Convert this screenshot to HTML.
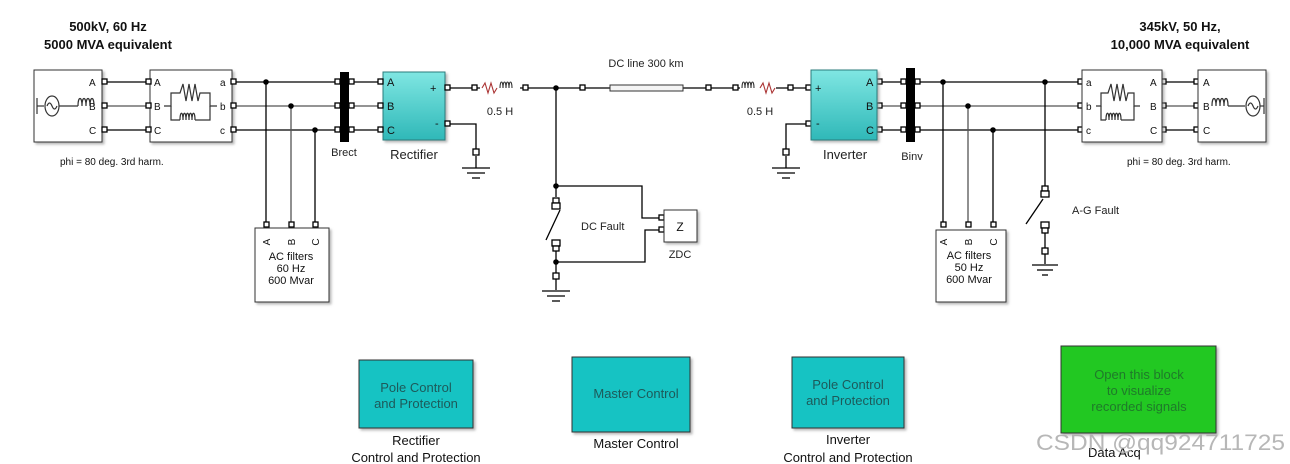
<!DOCTYPE html>
<html><head><meta charset="utf-8"><style>
html,body{margin:0;padding:0;background:#fff;width:1290px;height:464px;overflow:hidden}
svg{display:block;font-family:"Liberation Sans",Arial,sans-serif}
</style></head><body>
<svg width="1290" height="464" viewBox="0 0 1290 464" xmlns="http://www.w3.org/2000/svg">
<defs>
<linearGradient id="teal" x1="0" y1="0" x2="0" y2="1"><stop offset="0" stop-color="#7fe6e2"/><stop offset="1" stop-color="#2fb8b8"/></linearGradient>
<filter id="sh" x="-10%" y="-10%" width="130%" height="130%"><feDropShadow dx="2" dy="2" stdDeviation="1.2" flood-color="#888" flood-opacity="0.6"/></filter>
</defs>
<rect width="1290" height="464" fill="#fff"/>
<g font-weight="bold" font-size="13" text-anchor="middle" fill="#111">
<text x="108" y="31">500kV, 60 Hz</text><text x="108" y="49">5000 MVA equivalent</text>
<text x="1180" y="31">345kV, 50 Hz,</text><text x="1180" y="49">10,000 MVA equivalent</text>
</g>
<g stroke="#000" stroke-width="1.3" fill="none">
<line x1="104" y1="82" x2="150" y2="82"/><line x1="104" y1="106" x2="150" y2="106" stroke="#555"/><line x1="104" y1="130" x2="150" y2="130"/>
<line x1="232" y1="82" x2="383" y2="82"/><line x1="232" y1="106" x2="383" y2="106" stroke="#555"/><line x1="232" y1="130" x2="383" y2="130"/>
<line x1="266" y1="82" x2="266" y2="226"/><line x1="291" y1="106" x2="291" y2="226" stroke="#555"/><line x1="315" y1="130" x2="315" y2="226"/>
<line x1="446" y1="88" x2="480" y2="88"/>
<line x1="520" y1="88" x2="610" y2="88"/>
<line x1="683" y1="88" x2="740" y2="88"/>
<line x1="776" y1="88" x2="811" y2="88"/>
<polyline points="446,124 476,124 476,150"/>
<polyline points="811,124 786,124 786,150"/>
<line x1="462" y1="168" x2="490" y2="168"/><line x1="467" y1="173" x2="485" y2="173"/><line x1="472" y1="178" x2="480" y2="178"/><line x1="476" y1="156" x2="476" y2="168"/>
<line x1="772" y1="168" x2="800" y2="168"/><line x1="777" y1="173" x2="795" y2="173"/><line x1="782" y1="178" x2="790" y2="178"/><line x1="786" y1="156" x2="786" y2="168"/>
<line x1="556" y1="88" x2="556" y2="197"/>
<polyline points="556,186 642,186 642,218 664,218"/>
<polyline points="664,230 645,230 645,262 556,262"/>
<line x1="546" y1="240" x2="560" y2="210"/>
<line x1="556" y1="248" x2="556" y2="290"/>
<line x1="542" y1="291" x2="570" y2="291"/><line x1="547" y1="296" x2="565" y2="296"/><line x1="552" y1="301" x2="560" y2="301"/>
<line x1="878" y1="82" x2="1082" y2="82"/><line x1="878" y1="106" x2="1082" y2="106" stroke="#555"/><line x1="878" y1="130" x2="1082" y2="130"/>
<line x1="1163" y1="82" x2="1198" y2="82"/><line x1="1163" y1="106" x2="1198" y2="106" stroke="#555"/><line x1="1163" y1="130" x2="1198" y2="130"/>
<line x1="943" y1="82" x2="943" y2="226"/><line x1="968" y1="106" x2="968" y2="226" stroke="#555"/><line x1="993" y1="130" x2="993" y2="226"/>
<line x1="1045" y1="82" x2="1045" y2="195"/>
<line x1="1026" y1="224" x2="1043" y2="199"/>
<line x1="1045" y1="226" x2="1045" y2="264"/>
<line x1="1032" y1="265" x2="1058" y2="265"/><line x1="1037" y1="270" x2="1053" y2="270"/><line x1="1042" y1="275" x2="1048" y2="275"/>
</g>
<g fill="#000">
<circle cx="266" cy="82" r="2.8"/><circle cx="291" cy="106" r="2.8"/><circle cx="315" cy="130" r="2.8"/>
<circle cx="556" cy="88" r="2.8"/><circle cx="556" cy="186" r="2.8"/><circle cx="556" cy="262" r="2.8"/>
<circle cx="943" cy="82" r="2.8"/><circle cx="968" cy="106" r="2.8"/><circle cx="993" cy="130" r="2.8"/><circle cx="1045" cy="82" r="2.8"/>
</g>
<rect x="34" y="70" width="68" height="72" fill="#fff" stroke="#333" filter="url(#sh)"/>
<g stroke="#333" fill="none" stroke-width="1.2">
<line x1="37" y1="98" x2="37" y2="114"/><line x1="37" y1="106" x2="44" y2="106"/><ellipse cx="52" cy="106" rx="7" ry="10"/><path d="M47,106 q2.5,-6 5,0 q2.5,6 5,0"/>
<line x1="59" y1="106" x2="78" y2="106"/><path d="M78,106 c0,-10 4,-10 4,0 c0,-10 4,-10 4,0 c0,-10 4,-10 4,0 c0,-10 4,-10 4,0"/>
</g>
<g font-size="10" fill="#111"><text x="89" y="86">A</text><text x="89" y="110">B</text><text x="89" y="134">C</text></g>
<rect x="150" y="70" width="82" height="72" fill="#fff" stroke="#333" filter="url(#sh)"/>
<g stroke="#333" fill="none" stroke-width="1.2">
<polyline points="164,106 171,106 171,93 180,93 183,84 186,101 189,84 192,101 195,84 198,101 200,93 210,93 210,106 217,106"/>
<polyline points="171,106 171,120 180,120"/><path d="M180,120 c0,-9 3,-9 3,0 c0,-9 3,-9 3,0 c0,-9 3,-9 3,0 c0,-9 3,-9 3,0 c0,-9 3,-9 3,0"/><polyline points="195,120 210,120 210,106"/>
</g>
<g font-size="10" fill="#111"><text x="154" y="86">A</text><text x="154" y="110">B</text><text x="154" y="134">C</text><text x="220" y="86">a</text><text x="220" y="110">b</text><text x="220" y="134">c</text></g>
<text x="60" y="165" font-size="10" fill="#111">phi = 80 deg.  3rd harm.</text>
<rect x="340" y="72" width="9" height="70" fill="#000"/>
<text x="344" y="156" font-size="11" text-anchor="middle" fill="#222">Brect</text>
<rect x="383" y="72" width="62" height="68" fill="url(#teal)" stroke="#2a7b7b" filter="url(#sh)"/>
<g font-size="11" fill="#111"><text x="387" y="86">A</text><text x="387" y="110">B</text><text x="387" y="134">C</text><text x="430" y="92">+</text><text x="435" y="127">-</text></g>
<text x="414" y="159" font-size="13" text-anchor="middle" fill="#222">Rectifier</text>
<g stroke="#a33" fill="none" stroke-width="1.1"><polyline points="482,88 485,83 488,93 491,83 494,93 497,88"/></g>
<g stroke="#333" fill="none" stroke-width="1.1"><path d="M500,88 c0,-8 3,-8 3,0 c0,-8 3,-8 3,0 c0,-8 3,-8 3,0 c0,-8 3,-8 3,0"/></g>
<text x="500" y="115" font-size="11" text-anchor="middle" fill="#222">0.5 H</text>
<rect x="610" y="85" width="73" height="6" fill="#f4f4f4" stroke="#333"/>
<text x="646" y="67" font-size="11" text-anchor="middle" fill="#222">DC line 300 km</text>
<g stroke="#333" fill="none" stroke-width="1.1"><path d="M742,88 c0,-8 3,-8 3,0 c0,-8 3,-8 3,0 c0,-8 3,-8 3,0 c0,-8 3,-8 3,0"/></g>
<g stroke="#a33" fill="none" stroke-width="1.1"><polyline points="760,88 763,83 766,93 769,83 772,93 775,88"/></g>
<text x="760" y="115" font-size="11" text-anchor="middle" fill="#222">0.5 H</text>
<g fill="#fff" stroke="#000" stroke-width="1.3">
<rect x="102" y="79" width="5" height="5"/><rect x="102" y="103" width="5" height="5"/><rect x="102" y="127" width="5" height="5"/>
<rect x="146" y="79" width="5" height="5"/><rect x="146" y="103" width="5" height="5"/><rect x="146" y="127" width="5" height="5"/>
<rect x="231" y="79" width="5" height="5"/><rect x="231" y="103" width="5" height="5"/><rect x="231" y="127" width="5" height="5"/>
<rect x="335" y="79" width="5" height="5"/><rect x="335" y="103" width="5" height="5"/><rect x="335" y="127" width="5" height="5"/>
<rect x="349" y="79" width="5" height="5"/><rect x="349" y="103" width="5" height="5"/><rect x="349" y="127" width="5" height="5"/>
<rect x="378" y="79" width="5" height="5"/><rect x="378" y="103" width="5" height="5"/><rect x="378" y="127" width="5" height="5"/>
<rect x="445" y="85" width="5" height="5"/><rect x="445" y="121" width="5" height="5"/>
<rect x="472" y="85" width="5" height="5"/><rect x="523" y="85" width="5" height="5"/>
<rect x="580" y="85" width="5" height="5"/><rect x="706" y="85" width="5" height="5"/>
<rect x="733" y="85" width="5" height="5"/><rect x="788" y="85" width="5" height="5"/>
<rect x="806" y="85" width="5" height="5"/><rect x="806" y="121" width="5" height="5"/>
<rect x="473" y="149" width="6" height="6"/><rect x="783" y="149" width="6" height="6"/>
<rect x="877" y="79" width="5" height="5"/><rect x="877" y="103" width="5" height="5"/><rect x="877" y="127" width="5" height="5"/>
<rect x="901" y="79" width="5" height="5"/><rect x="901" y="103" width="5" height="5"/><rect x="901" y="127" width="5" height="5"/>
<rect x="915" y="79" width="5" height="5"/><rect x="915" y="103" width="5" height="5"/><rect x="915" y="127" width="5" height="5"/>
<rect x="1078" y="79" width="5" height="5"/><rect x="1078" y="103" width="5" height="5"/><rect x="1078" y="127" width="5" height="5"/>
<rect x="1161" y="79" width="5" height="5"/><rect x="1161" y="103" width="5" height="5"/><rect x="1161" y="127" width="5" height="5"/>
<rect x="1194" y="79" width="5" height="5"/><rect x="1194" y="103" width="5" height="5"/><rect x="1194" y="127" width="5" height="5"/>
<rect x="264" y="222" width="5" height="5"/><rect x="289" y="222" width="5" height="5"/><rect x="313" y="222" width="5" height="5"/>
<rect x="941" y="222" width="5" height="5"/><rect x="966" y="222" width="5" height="5"/><rect x="991" y="222" width="5" height="5"/>
<rect x="553" y="198" width="6" height="5"/><rect x="552" y="203" width="8" height="6"/>
<rect x="552" y="240" width="8" height="6"/><rect x="553" y="246" width="6" height="5"/>
<rect x="553" y="273" width="6" height="6"/>
<rect x="659" y="215" width="5" height="5"/><rect x="659" y="227" width="5" height="5"/>
<rect x="1042" y="186" width="6" height="5"/><rect x="1041" y="191" width="8" height="6"/>
<rect x="1041" y="222" width="8" height="6"/><rect x="1042" y="228" width="6" height="5"/>
<rect x="1042" y="248" width="6" height="6"/>
</g>
<rect x="255" y="228" width="74" height="74" fill="#fff" stroke="#333" filter="url(#sh)"/>
<g font-size="10" fill="#111">
<text transform="translate(270,242) rotate(-90)" text-anchor="middle">A</text>
<text transform="translate(295,242) rotate(-90)" text-anchor="middle">B</text>
<text transform="translate(319,242) rotate(-90)" text-anchor="middle">C</text>
</g>
<g font-size="11" fill="#111" text-anchor="middle"><text x="291" y="260">AC filters</text><text x="291" y="272">60 Hz</text><text x="291" y="284">600 Mvar</text></g>
<rect x="936" y="230" width="70" height="72" fill="#fff" stroke="#333" filter="url(#sh)"/>
<g font-size="10" fill="#111">
<text transform="translate(947,242) rotate(-90)" text-anchor="middle">A</text>
<text transform="translate(972,242) rotate(-90)" text-anchor="middle">B</text>
<text transform="translate(997,242) rotate(-90)" text-anchor="middle">C</text>
</g>
<g font-size="11" fill="#111" text-anchor="middle"><text x="969" y="259">AC filters</text><text x="969" y="271">50 Hz</text><text x="969" y="283">600 Mvar</text></g>
<text x="581" y="230" font-size="11" fill="#222">DC Fault</text>
<rect x="664" y="210" width="33" height="32" fill="#fff" stroke="#333" filter="url(#sh)"/>
<text x="680" y="231" font-size="12" text-anchor="middle" fill="#111">Z</text>
<text x="680" y="258" font-size="11" text-anchor="middle" fill="#222">ZDC</text>
<text x="1072" y="214" font-size="11" fill="#222">A-G Fault</text>
<rect x="811" y="70" width="66" height="70" fill="url(#teal)" stroke="#2a7b7b" filter="url(#sh)"/>
<g font-size="11" fill="#111"><text x="866" y="86">A</text><text x="866" y="110">B</text><text x="866" y="134">C</text><text x="815" y="92">+</text><text x="816" y="127">-</text></g>
<text x="845" y="159" font-size="13" text-anchor="middle" fill="#222">Inverter</text>
<rect x="906" y="68" width="9" height="74" fill="#000"/>
<text x="912" y="160" font-size="11" text-anchor="middle" fill="#222">Binv</text>
<rect x="1082" y="70" width="80" height="72" fill="#fff" stroke="#333" filter="url(#sh)"/>
<g stroke="#333" fill="none" stroke-width="1.2">
<polyline points="1096,106 1101,106 1101,93 1108,93 1111,84 1114,101 1117,84 1120,101 1123,84 1126,101 1128,93 1134,93 1134,106 1140,106"/>
<polyline points="1101,106 1101,120 1106,120"/><path d="M1106,120 c0,-9 3,-9 3,0 c0,-9 3,-9 3,0 c0,-9 3,-9 3,0 c0,-9 3,-9 3,0 c0,-9 3,-9 3,0"/><polyline points="1121,120 1134,120 1134,106"/>
</g>
<g font-size="10" fill="#111"><text x="1086" y="86">a</text><text x="1086" y="110">b</text><text x="1086" y="134">c</text><text x="1150" y="86">A</text><text x="1150" y="110">B</text><text x="1150" y="134">C</text></g>
<rect x="1198" y="70" width="68" height="72" fill="#fff" stroke="#333" filter="url(#sh)"/>
<g stroke="#333" fill="none" stroke-width="1.2">
<path d="M1212,106 c0,-10 4,-10 4,0 c0,-10 4,-10 4,0 c0,-10 4,-10 4,0 c0,-10 4,-10 4,0"/><line x1="1228" y1="106" x2="1245" y2="106"/>
<ellipse cx="1253" cy="106" rx="7" ry="10"/><path d="M1248,106 q2.5,-6 5,0 q2.5,6 5,0"/><line x1="1260" y1="106" x2="1264" y2="106"/><line x1="1264" y1="98" x2="1264" y2="114"/>
</g>
<g font-size="10" fill="#111"><text x="1203" y="86">A</text><text x="1203" y="110">B</text><text x="1203" y="134">C</text></g>
<text x="1127" y="165" font-size="10" fill="#111">phi = 80 deg. 3rd harm.</text>
<rect x="359" y="360" width="114" height="68" fill="#17c3c3" stroke="#333" filter="url(#sh)"/>
<g font-size="13" fill="#1d5a5a" text-anchor="middle"><text x="416" y="392">Pole Control</text><text x="416" y="408">and Protection</text></g>
<g font-size="13" fill="#111" text-anchor="middle"><text x="416" y="445">Rectifier</text><text x="416" y="462">Control and Protection</text></g>
<rect x="572" y="357" width="118" height="75" fill="#17c3c3" stroke="#333" filter="url(#sh)"/>
<text x="636" y="398" font-size="13" fill="#1d5a5a" text-anchor="middle">Master Control</text>
<text x="636" y="448" font-size="13" fill="#111" text-anchor="middle">Master Control</text>
<rect x="792" y="357" width="112" height="71" fill="#17c3c3" stroke="#333" filter="url(#sh)"/>
<g font-size="13" fill="#1d5a5a" text-anchor="middle"><text x="848" y="389">Pole Control</text><text x="848" y="405">and Protection</text></g>
<g font-size="13" fill="#111" text-anchor="middle"><text x="848" y="444">Inverter</text><text x="848" y="462">Control and Protection</text></g>
<rect x="1061" y="346" width="155" height="87" fill="#20c820" stroke="#333" filter="url(#sh)"/>
<g font-size="13" fill="#1f7a2a" text-anchor="middle"><text x="1139" y="379">Open this block</text><text x="1139" y="395">to visualize</text><text x="1139" y="411">recorded signals</text></g>
<text x="1088" y="457" font-size="13" fill="#111">Data Acq</text>
<text x="1036" y="450" font-size="22" fill="#aaa" fill-opacity="0.85" textLength="249" lengthAdjust="spacingAndGlyphs">CSDN @qq924711725</text>
</svg>
</body></html>
